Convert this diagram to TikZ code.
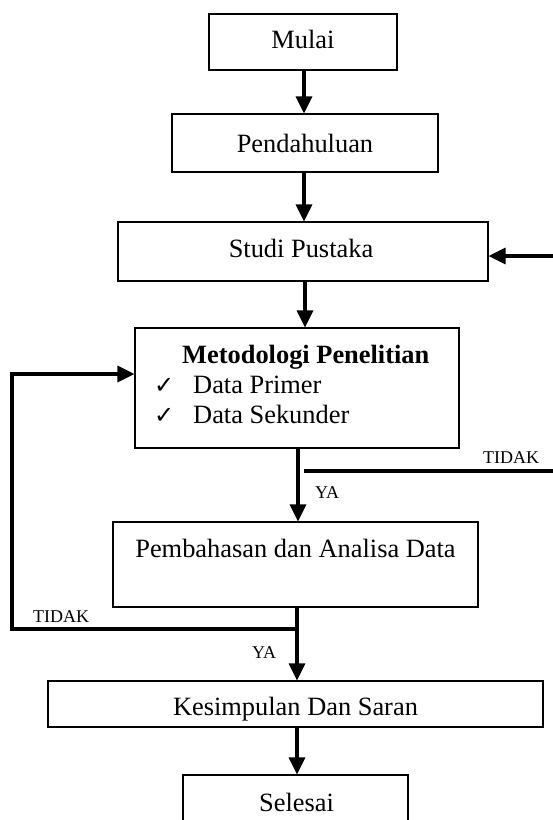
\documentclass[tikz,border=0pt]{standalone}
\usepackage{fontspec}
\setmainfont{Liberation Serif}
\newfontfamily\dejavu{DejaVu Sans}
\usetikzlibrary{arrows.meta}
\begin{document}
\begin{tikzpicture}[x=1pt,y=-1pt,
  box/.style={draw,line width=1.1pt,inner sep=0pt,minimum width=#1},
  txt/.style={anchor=base,inner sep=0pt,font=\fontsize{26.4}{30}\selectfont},
  txtl/.style={anchor=base west,inner sep=0pt,font=\fontsize{26.4}{30}\selectfont},
  small/.style={anchor=base west,inner sep=0pt,font=\fontsize{18}{20}\selectfont},
  chk/.style={anchor=base west,inner sep=0pt,font=\dejavu\fontsize{24}{24}\selectfont},
  thk/.style={line width=3.2pt},
  arr/.style={line width=3.2pt,-{Triangle[length=17pt,width=16pt]}}]
\useasboundingbox (0,0) rectangle (553,820);
% boxes
\node[box=188pt,minimum height=56pt] (mulai) at (303,42) {};
\node[box=266pt,minimum height=58pt] (pend) at (305,143) {};
\node[box=370pt,minimum height=59pt] (studi) at (303,251.5) {};
\node[box=324pt,minimum height=120pt] (metod) at (297,388) {};
\node[box=365pt,minimum height=85pt] (pemb) at (295.5,564.5) {};
\node[box=495pt,minimum height=46pt] (kesim) at (295.5,704) {};
\node[box=225pt,minimum height=55pt] (seles) at (295.5,802.5) {};
% texts
\node[txt] (tmulai) at (303,48) {Mulai};
\node[txt] (tpend) at (305,152) {Pendahuluan};
\node[txt] (tstudi) at (301,257) {Studi Pustaka};
\node[txtl] (tmetod) at (182,363) {\bfseries Metodologi Penelitian};
\node[chk] (c1) at (154,393) {✓};
\node[txtl] (tprim) at (193,393) {Data Primer};
\node[chk] (c2) at (154,423) {✓};
\node[txtl] (tsek) at (193,423) {Data Sekunder};
\node[txt] (tpemb) at (295.5,557) {Pembahasan dan Analisa Data};
\node[txt] (tkesim) at (295.5,715) {Kesimpulan Dan Saran};
\node[txt] (tseles) at (296.5,811) {Selesai};
% labels
\node[small] (tidak1) at (483,463) {TIDAK};
\node[small] (ya1) at (315,498) {YA};
\node[small] (tidak2) at (33,622) {TIDAK};
\node[small] (ya2) at (252,658) {YA};
% coordinates
\coordinate (rs) at (304,471);
\coordinate (re) at (553,471);
\coordinate (rin) at (553,256);
\coordinate (lj) at (297,629);
\coordinate (lc) at (12,629);
\coordinate (lt) at (12,374);
% connectors
\draw[arr] (mulai.south -| 304,0) -- (pend.north -| 304,0);
\draw[arr] (pend.south -| 304,0) -- (studi.north -| 304,0);
\draw[arr] (studi.south -| 305,0) -- (metod.north -| 305,0);
\draw[arr] (metod.south -| 298,0) -- (pemb.north -| 298,0);
\draw[arr] (pemb.south -| 297,0) -- (kesim.north -| 297,0);
\draw[arr] (kesim.south -| 297,0) -- (seles.north -| 297,0);
\draw[thk] (rs) -- (re);
\draw[arr] (rin) -- (studi.east |- rin);
\draw[arr,line join=miter] (lj) -- (lc) -- (lt) -- (metod.west |- lt);
\end{tikzpicture}
\end{document}
